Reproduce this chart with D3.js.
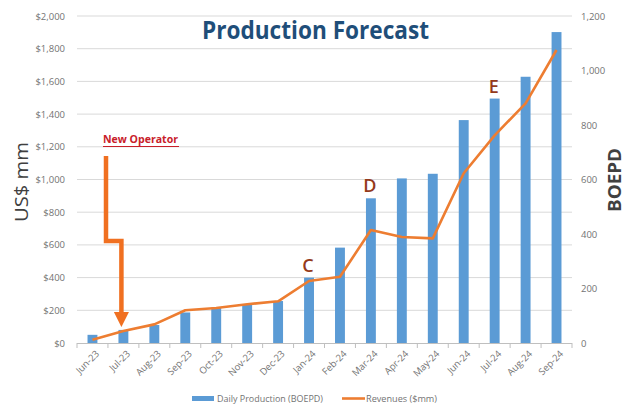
<!DOCTYPE html>
<html><head><meta charset="utf-8">
<script src="https://cdn.jsdelivr.net/npm/d3@7"></script>
<style>html,body{margin:0;padding:0;background:#fff;}</style>
</head><body>
<svg id="c" width="632" height="404"></svg>
<script>
const months = ["Jun-23","Jul-23","Aug-23","Sep-23","Oct-23","Nov-23","Dec-23","Jan-24","Feb-24","Mar-24","Apr-24","May-24","Jun-24","Jul-24","Aug-24","Sep-24"];
const production = [30,48,66,112,130,142,154,240,350,531,604,621,818,897,977,1141];
const revenues = [20,73,114,200,214,237,255,379,405,691,648,640,1038,1270,1466,1792];
const leftTicks = [0,200,400,600,800,1000,1200,1400,1600,1800,2000];
const rightTicks = [0,200,400,600,800,1000,1200];
const milestones = [{m:"Jan-24",t:"C"},{m:"Mar-24",t:"D"},{m:"Jul-24",t:"E"}];

const svg = d3.select("#c");
const L=77,R=572,T=16,B=343;
const x = d3.scaleBand().domain(months).range([L,R]).paddingInner(0.68).paddingOuter(0.34);
const xb = d3.scaleBand().domain(months).range([L,R]);
const yL = d3.scaleLinear().domain([0,2000]).range([B,T]);
const yR = d3.scaleLinear().domain([0,1200]).range([B,T]);
const font = "'Open Sans', 'Liberation Sans', sans-serif";

// gridlines
svg.append("g").selectAll("line").data(leftTicks.slice(1)).join("line")
  .attr("x1",L).attr("x2",R).attr("y1",d=>yL(d)).attr("y2",d=>yL(d))
  .attr("stroke","#d9d9d9").attr("stroke-width",1);

// left axis
const gl = svg.append("g").attr("transform",`translate(${L-4},0)`)
  .call(d3.axisLeft(yL).tickValues(leftTicks).tickSize(0).tickPadding(8).tickFormat(d=>"$"+d3.format(",")(d)));
gl.select(".domain").remove();
gl.selectAll("text").attr("fill","#737373").style("font-family",font).style("font-size","9.5px");

// right axis
const gr = svg.append("g").attr("transform",`translate(${R},0)`)
  .call(d3.axisRight(yR).tickValues(rightTicks).tickSize(0).tickPadding(9).tickFormat(d3.format(",")));
gr.select(".domain").remove();
gr.selectAll("text").attr("fill","#737373").style("font-family",font).style("font-size","9.5px");

// bars
svg.append("g").selectAll("rect").data(months).join("rect")
  .attr("x",d=>x(d)).attr("width",x.bandwidth())
  .attr("y",(d,i)=>yR(production[i])).attr("height",(d,i)=>B-yR(production[i]))
  .attr("fill","#5b9bd5");

// x axis
svg.append("line").attr("x1",L).attr("x2",R).attr("y1",B+0.5).attr("y2",B+0.5).attr("stroke","#bfbfbf");
svg.append("g").selectAll("line").data(months.concat(["__end"])).join("line")
  .attr("x1",(d,i)=>L+i*xb.bandwidth()).attr("x2",(d,i)=>L+i*xb.bandwidth())
  .attr("y1",B).attr("y2",B+5).attr("stroke","#bfbfbf");
svg.append("g").selectAll("text").data(months).join("text")
  .attr("transform",d=>`translate(${xb(d)+xb.bandwidth()/2+5},${B+9}) rotate(-45)`)
  .attr("text-anchor","end").attr("dy","0.35em")
  .attr("fill","#737373").style("font-family",font).style("font-size","9.5px")
  .text(d=>d);

// revenue line
const line = d3.line().x((d,i)=>xb(months[i])+xb.bandwidth()/2).y(d=>yL(d));
svg.append("path").datum(revenues).attr("d",line)
  .attr("fill","none").attr("stroke","#ed7d31").attr("stroke-width",2.6).attr("stroke-linejoin","round");

// title
svg.append("text").attr("x",315.5).attr("y",39).attr("text-anchor","middle")
  .attr("fill","#1f4e79").style("font-family",font).style("font-weight","bold").style("font-size","25px")
  .attr("textLength",227).attr("lengthAdjust","spacingAndGlyphs")
  .text("Production Forecast");

// axis titles
svg.append("text").attr("transform","translate(28,182) rotate(-90)").attr("text-anchor","middle")
  .attr("fill","#404040").style("font-family",font).style("font-size","19px")
  .attr("textLength",80).attr("lengthAdjust","spacingAndGlyphs").text("US$ mm");
svg.append("text").attr("transform","translate(621,180) rotate(-90)").attr("text-anchor","middle")
  .attr("fill","#404040").style("font-family",font).style("font-weight","bold").style("font-size","17px")
  .attr("textLength",64).attr("lengthAdjust","spacingAndGlyphs").text("BOEPD");

// milestones
svg.append("g").selectAll("text").data(milestones).join("text")
  .attr("x",d=>xb(d.m)+xb.bandwidth()/2-1)
  .attr("y",d=>yR(production[months.indexOf(d.m)])-6)
  .attr("text-anchor","middle").attr("fill","#943a1b")
  .style("font-family",font).style("font-size","18px").style("font-weight","600")
  .text(d=>d.t);

// New operator annotation
svg.append("text").attr("x",103).attr("y",143).attr("fill","#c8202a")
  .style("font-family",font).style("font-weight","bold").style("font-size","11px")
  .attr("textLength",75).attr("lengthAdjust","spacingAndGlyphs").text("New Operator");
svg.append("line").attr("x1",103).attr("x2",179).attr("y1",146.5).attr("y2",146.5).attr("stroke","#c8202a").attr("stroke-width",1.2);
const ax = xb("Jul-23")+xb.bandwidth()/2-2;
svg.append("path").attr("d",`M106,156 L106,241 L${ax},241 L${ax},313`)
  .attr("fill","none").attr("stroke","#f07021").attr("stroke-width",4.5).attr("stroke-linejoin","miter");
svg.append("path").attr("d",`M${ax-7.5},312 L${ax+7.5},312 L${ax},327 Z`).attr("fill","#f07021");

// legend
svg.append("rect").attr("x",192).attr("y",396).attr("width",22).attr("height",5).attr("fill","#5b9bd5");
svg.append("text").attr("x",217).attr("y",402).attr("fill","#737373").style("font-family",font).style("font-size","9.5px")
  .attr("textLength",106).attr("lengthAdjust","spacingAndGlyphs").text("Daily Production (BOEPD)");
svg.append("line").attr("x1",342).attr("x2",365).attr("y1",398.5).attr("y2",398.5).attr("stroke","#ed7d31").attr("stroke-width",2.6);
svg.append("text").attr("x",366).attr("y",402).attr("fill","#737373").style("font-family",font).style("font-size","9.5px")
  .attr("textLength",71).attr("lengthAdjust","spacingAndGlyphs").text("Revenues ($mm)");
</script>
</body></html>
